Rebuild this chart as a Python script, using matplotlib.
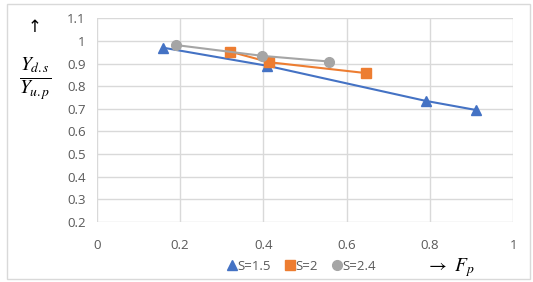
import matplotlib.pyplot as plt
from matplotlib.patches import Rectangle

# data
fp_15 = [0.16, 0.41, 0.79, 0.91]
y_15 = [0.97, 0.89, 0.735, 0.695]
fp_2 = [0.32, 0.414, 0.646]
y_2 = [0.953, 0.906, 0.858]
fp_24 = [0.19, 0.398, 0.558]
y_24 = [0.982, 0.934, 0.909]
labels = ['S=1.5', 'S=2', 'S=2.4']

blue, orange, grey = '#4472C4', '#ED7D31', '#A5A5A5'
tick_col = '#595959'

plt.rcParams['font.family'] = ['Open Sans', 'DejaVu Sans']
plt.rcParams['mathtext.fontset'] = 'stix'

fig = plt.figure(figsize=(5.33, 2.82), dpi=100)
ax = fig.add_axes([0.1814, 0.213, 0.7816, 0.722])

ax.plot(fp_15, y_15, color=blue, lw=1.5, marker='^', ms=7, label=labels[0], zorder=3)
ax.plot(fp_2, y_2, color=orange, lw=1.5, marker='s', ms=7, label=labels[1], zorder=3)
ax.plot(fp_24, y_24, color=grey, lw=1.5, marker='o', ms=7, label=labels[2], zorder=3)

ax.set_xlim(0, 1)
ax.set_ylim(0.2, 1.1)
ax.set_xticks([0, 0.2, 0.4, 0.6, 0.8, 1])
ax.set_xticklabels(['0', '0.2', '0.4', '0.6', '0.8', '1'])
ax.set_yticks([0.2, 0.3, 0.4, 0.5, 0.6, 0.7, 0.8, 0.9, 1.0, 1.1])
ax.set_yticklabels(['0.2', '0.3', '0.4', '0.5', '0.6', '0.7', '0.8', '0.9', '1', '1.1'])
ax.grid(True, color='#D9D9D9', lw=1)
ax.set_axisbelow(True)
for s in ax.spines.values():
    s.set_visible(False)
ax.tick_params(length=0, colors=tick_col, labelsize=9.5, pad=8)
ax.tick_params(axis='x', pad=12)

leg = fig.legend(loc='center', bbox_to_anchor=(0.57, 0.055), ncol=3, frameon=False,
                 handlelength=0, handletextpad=0.45, columnspacing=1.4,
                 fontsize=9.5, labelcolor=tick_col)
for h in leg.legend_handles:
    h.set_linestyle('')

fig.text(0.065, 0.9, '↑', fontsize=12, ha='center', va='center')
fig.text(0.066, 0.72, r'$\frac{Y_{d.s}}{Y_{u.p}}$', fontsize=20, ha='center', va='center')
fig.text(0.845, 0.05, r'$\rightarrow\ F_p$', fontsize=14, ha='center', va='center')

fig.add_artist(Rectangle((0.013, 0.012), 0.982, 0.974, transform=fig.transFigure,
                         fill=False, edgecolor='#D9D9D9', lw=1))

fig.savefig('out.png', dpi=100)
